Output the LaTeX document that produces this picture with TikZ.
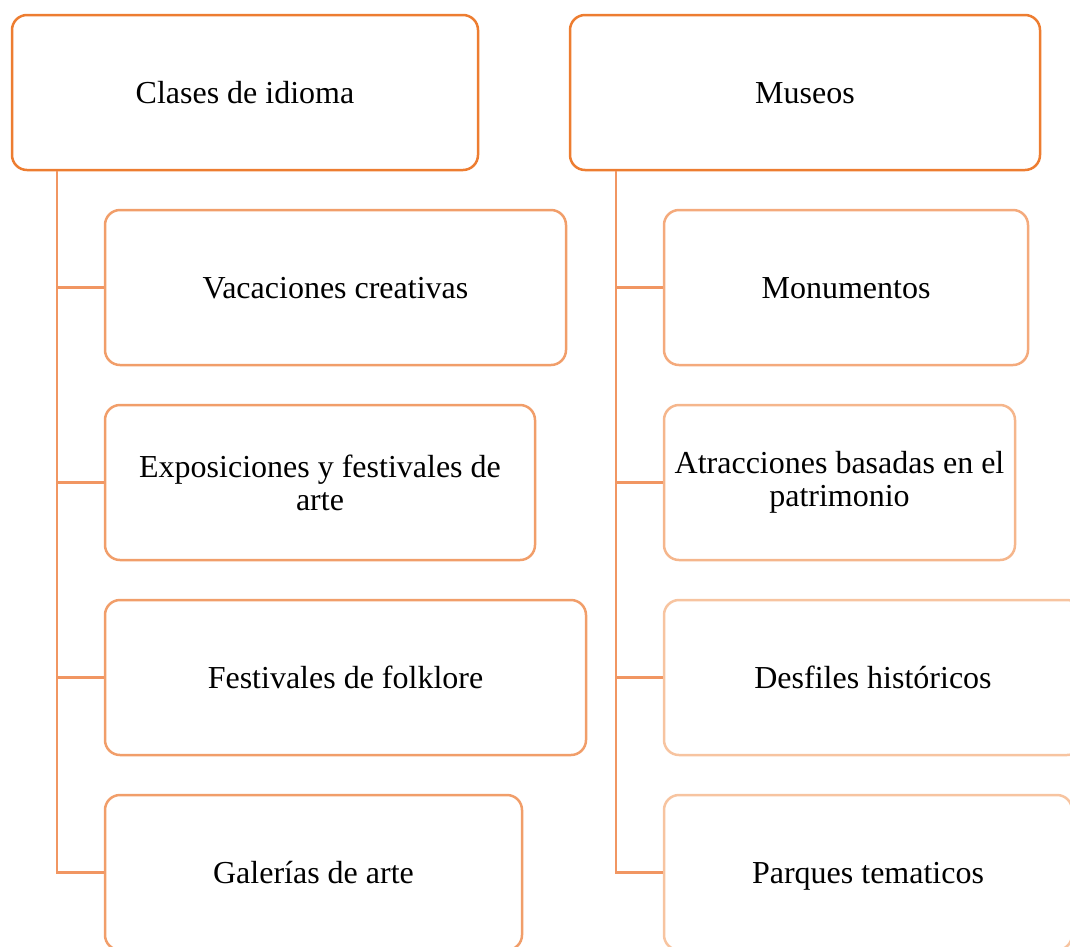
\documentclass[tikz,border=0pt]{standalone}
\usepackage{fontspec}
\setmainfont{Liberation Serif}
\usetikzlibrary{positioning, calc}
\definecolor{MainOrange}{RGB}{237,125,49}
\definecolor{LinkOrange}{RGB}{241,150,98}
\definecolor{SubOrangeA}{RGB}{241,158,106}
\definecolor{SubOrangeB}{RGB}{244,170,124}
\definecolor{SubOrangeC}{RGB}{245,182,140}
\definecolor{SubOrangeD}{RGB}{247,196,160}

\tikzset{
	box/.style={rounded corners=15pt, line width=2.5pt, minimum height=155pt,
		align=center, inner sep=4pt, text height=26pt, text depth=4pt,
		font=\fontsize{32}{33}\selectfont},
	twolines/.style={text height={}, text depth={}},
	topbox/.style={box, draw=MainOrange},
	subbox/.style={box, draw=#1},
	link/.style={draw=LinkOrange, line width=2.5pt}
}

\begin{document}
\begin{tikzpicture}[x=1pt, y=-1pt]
		\useasboundingbox (0,0) rectangle (1070,946);
		\clip (0,0) rectangle (1070,946);
		% top level
		\node[topbox, minimum width=466pt] (clases) at (245,92.5) {Clases de idioma};
		\node[topbox, minimum width=470pt] (museos) at (805,92.5) {Museos};
		% left column
		\node[subbox=SubOrangeA, minimum width=461pt] (vacaciones) at (335.5,287.5) {Vacaciones creativas};
		\node[subbox=SubOrangeA, twolines, minimum width=430pt] (exposiciones) at (320,482.5) {Exposiciones y festivales de\\arte};
		\node[subbox=SubOrangeA, minimum width=481pt] (folklore) at (345.5,677.5) {Festivales de folklore};
		\node[subbox=SubOrangeA, minimum width=417pt] (galerias) at (313.5,872.5) {Galerías de arte};
		% right column
		\node[subbox=SubOrangeB, minimum width=364pt] (monumentos) at (846,287.5) {Monumentos};
		\node[subbox=SubOrangeC, twolines, minimum width=351pt] (atracciones) at (839.5,482.5) {Atracciones basadas en el\\patrimonio};
		\node[subbox=SubOrangeD, minimum width=418pt] (desfiles) at (873,677.5) {Desfiles históricos};
		\node[subbox=SubOrangeD, minimum width=408pt] (parques) at (868,872.5) {Parques tematicos};
		% connectors
		\foreach \n in {vacaciones, exposiciones, folklore, galerias}
		\draw[link] ($(clases.south west)+(46,0)$) |- (\n.west);
		\foreach \n in {monumentos, atracciones, desfiles, parques}
		\draw[link] ($(museos.south west)+(47,0)$) |- (\n.west);
	\end{tikzpicture}
\end{document}
